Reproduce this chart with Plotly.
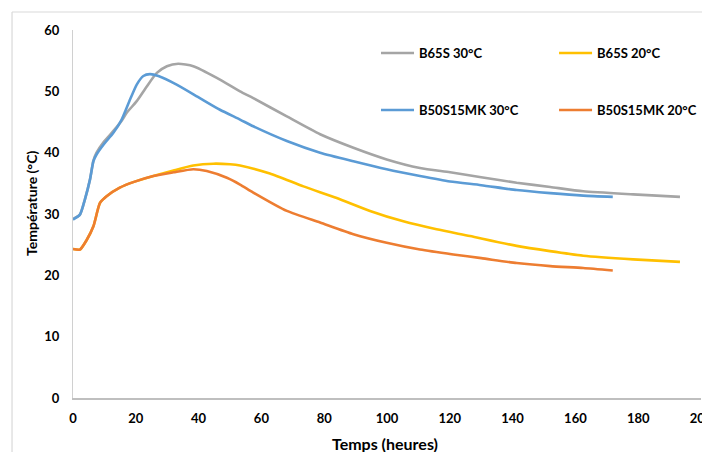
import plotly.graph_objects as go

# ---- data ----
b65s30_t = [0, 2.2, 3.8, 5.4, 6.5, 7.5, 9.7, 12.8, 15.5, 17.1, 20.3, 23.5, 26.7, 29.9, 33.5, 38.3,
            45.8, 53.2, 57.4, 68.1, 78.7, 89.3, 99.9, 110.5, 120.1, 130, 141.3, 152, 162.5, 178.4, 193.3]
b65s30_v = [29.2, 29.9, 32.4, 35.6, 38.7, 40.0, 41.7, 43.5, 45.2, 46.5, 48.4, 50.8, 53.0, 54.1, 54.5, 54.1,
            52.2, 50.0, 48.9, 45.9, 43.0, 40.8, 38.9, 37.5, 36.8, 36.0, 35.1, 34.4, 33.7, 33.2, 32.8]

b65s20_t = [0, 2.2, 4.4, 6.5, 8.6, 10.7, 14.9, 19.2, 25.6, 32.0, 38.3, 44.7, 50, 53.2, 62.7, 73.4,
            84.0, 94.6, 105.2, 115.8, 126.4, 141.3, 162.5, 178.4, 193.3]
b65s20_v = [24.3, 24.2, 25.8, 28.0, 31.8, 32.9, 34.3, 35.2, 36.2, 37.1, 37.9, 38.2, 38.1, 37.9, 36.6, 34.5,
            32.6, 30.5, 28.8, 27.5, 26.4, 24.8, 23.2, 22.6, 22.2]

b50s15mk30_t = [0, 2.2, 3.8, 5.4, 6.5, 7.5, 9.7, 12.8, 15.5, 18.2, 20.3, 22.4, 24.5, 27.2, 33.0, 40.4,
                46.8, 53.2, 57.4, 68.1, 78.7, 89.3, 99.9, 110.5, 120.1, 130, 141.3, 152, 162.5, 171.9]
b50s15mk30_v = [29.1, 29.9, 32.4, 35.6, 38.6, 39.7, 41.3, 43.2, 45.4, 48.7, 51.1, 52.5, 52.8, 52.5, 51.1, 48.9,
                47.0, 45.4, 44.3, 41.9, 40.0, 38.6, 37.3, 36.2, 35.3, 34.7, 33.9, 33.4, 33.0, 32.8]

b50s15mk20_t = [0, 2.2, 4.4, 6.5, 8.6, 10.7, 14.9, 19.2, 25.6, 32.0, 38.3, 42.6, 49.0, 53.2, 57.4, 68.1,
                78.7, 89.3, 99.9, 110.5, 121.1, 130, 141.3, 152, 162.5, 171.9]
b50s15mk20_v = [24.3, 24.2, 25.8, 28.0, 31.8, 32.9, 34.3, 35.2, 36.2, 36.8, 37.3, 37.0, 35.9, 34.8, 33.5, 30.5,
                28.6, 26.7, 25.3, 24.2, 23.4, 22.8, 22.0, 21.5, 21.2, 20.8]

x_ticks = [0, 20, 40, 60, 80, 100, 120, 140, 160, 180, 200]
y_ticks = [0, 10, 20, 30, 40, 50, 60]

FONT = "Lato"

fig = go.Figure()
line_kw = dict(shape="spline", smoothing=0.6, width=2.6)
fig.add_trace(go.Scatter(x=b65s30_t, y=b65s30_v, mode="lines", name="B65S 30°C",
                         line=dict(color="#A5A5A5", **line_kw), legend="legend"))
fig.add_trace(go.Scatter(x=b65s20_t, y=b65s20_v, mode="lines", name="B65S 20°C",
                         line=dict(color="#FFC000", **line_kw), legend="legend2"))
fig.add_trace(go.Scatter(x=b50s15mk30_t, y=b50s15mk30_v, mode="lines", name="B50S15MK 30°C",
                         line=dict(color="#5B9BD5", **line_kw), legend="legend3"))
fig.add_trace(go.Scatter(x=b50s15mk20_t, y=b50s15mk20_v, mode="lines", name="B50S15MK 20°C",
                         line=dict(color="#ED7D31", **line_kw), legend="legend4"))

leg_common = dict(orientation="v", xanchor="left", yanchor="middle", bgcolor="rgba(0,0,0,0)",
                  font=dict(family=FONT, size=13, color="#000000", weight="bold"),
                  itemwidth=33, borderwidth=0)

col1, col2 = 0.4825, 0.766
row1, row2 = 0.9375, 0.7826

# The page adds an 8px body margin, so the figure is 8px smaller and shifted margins compensate.
fig.update_layout(
    width=702, height=444,
    margin=dict(l=65, r=9, t=22, b=54, autoexpand=False),
    paper_bgcolor="white", plot_bgcolor="white",
    font=dict(family=FONT, color="#000000"),
    xaxis=dict(range=[0, 200], tickvals=x_ticks, ticktext=[str(v) for v in x_ticks],
               showgrid=False, zeroline=False, showline=True, linecolor="#BFBFBF", linewidth=1.5,
               ticks="", ticklabelstandoff=8, automargin=False, ticklabeloverflow="allow",
               tickfont=dict(family=FONT, size=13, weight="bold")),
    yaxis=dict(range=[0, 60], tickvals=y_ticks, ticktext=[str(v) for v in y_ticks],
               showgrid=False, zeroline=False, showline=True, linecolor="#D0D0D0", linewidth=1,
               ticks="", ticklabelstandoff=10, automargin=False,
               tickfont=dict(family=FONT, size=13, weight="bold")),
    legend=dict(x=col1, y=row1, **leg_common),
    legend2=dict(x=col2, y=row1, **leg_common),
    legend3=dict(x=col1, y=row2, **leg_common),
    legend4=dict(x=col2, y=row2, **leg_common),
    annotations=[
        dict(text="Temps (heures)", xref="paper", yref="paper", x=0.4965, y=-0.1223,
             xanchor="center", yanchor="middle", showarrow=False,
             font=dict(family=FONT, size=16, weight="bold", color="#000000")),
        dict(text="Température (°C)", xref="paper", yref="paper", x=-0.0653, y=0.53,
             xanchor="center", yanchor="middle", textangle=-90, showarrow=False,
             font=dict(family=FONT, size=14, weight="bold", color="#000000")),
    ],
    shapes=[
        dict(type="line", xref="paper", yref="paper", x0=-0.0971, x1=-0.0971, y0=-0.3, y1=1.0489,
             line=dict(color="#D9D9D9", width=1.2)),
        dict(type="line", xref="paper", yref="paper", x0=-0.0971, x1=1.2, y0=1.0489, y1=1.0489,
             line=dict(color="#D9D9D9", width=1.2)),
    ],
    showlegend=True,
)

fig.write_html("out.html")
